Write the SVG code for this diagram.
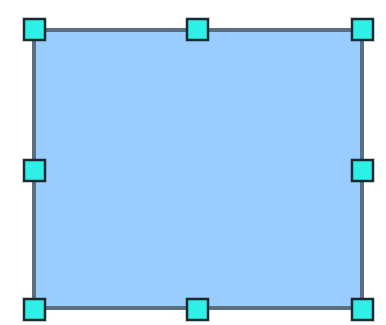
<svg xmlns="http://www.w3.org/2000/svg" width="386" height="325" viewBox="0 0 386 325">
<style>
.h{fill:#2ef0e6;stroke:#1a2a30;stroke-width:2.5}
</style>
<rect width="386" height="325" fill="#ffffff"/>
<g id="shape">
<rect x="34" y="30" width="328" height="278" fill="#99ccff" stroke="#5c6f80" stroke-width="4"/>
</g>
<g id="handles">
<rect class="h" x="24" y="19" width="21" height="21"/>
<rect class="h" x="187" y="19" width="21" height="21"/>
<rect class="h" x="352" y="19" width="21" height="21"/>
<rect class="h" x="24" y="160" width="21" height="21"/>
<rect class="h" x="352" y="160" width="21" height="21"/>
<rect class="h" x="24" y="299" width="21" height="21"/>
<rect class="h" x="187" y="299" width="21" height="21"/>
<rect class="h" x="352" y="299" width="21" height="21"/>
</g>
</svg>
